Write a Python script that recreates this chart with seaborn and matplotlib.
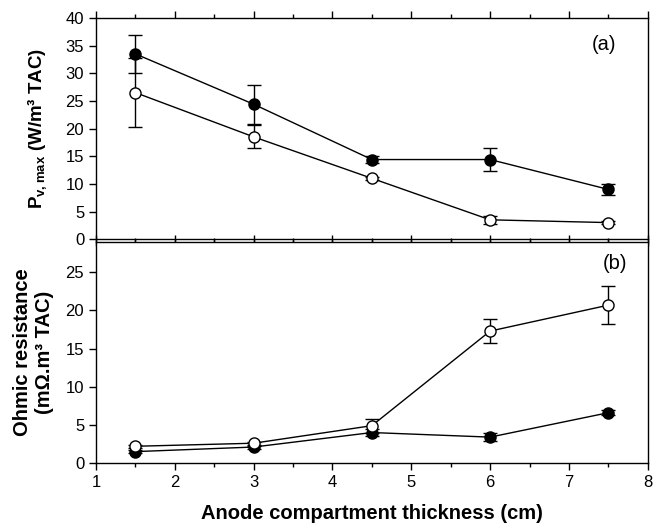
import matplotlib
matplotlib.use("Agg")
import matplotlib.pyplot as plt
import seaborn as sns
import numpy as np
import pandas as pd
from matplotlib.ticker import MultipleLocator

sns.set_theme(style="ticks")
plt.rcParams['font.family'] = ['Liberation Sans', 'DejaVu Sans']
plt.rcParams['mathtext.fontset'] = 'custom'
plt.rcParams['mathtext.rm'] = 'Liberation Sans'
plt.rcParams['mathtext.bf'] = 'Liberation Sans:bold'
for k in ('text.color', 'axes.labelcolor', 'xtick.color', 'ytick.color',
          'xtick.labelcolor', 'ytick.labelcolor', 'axes.edgecolor'):
    plt.rcParams[k] = 'black'

thickness = [1.5, 3.0, 4.5, 6.0, 7.5]

pv_filled = [33.5, 24.4, 14.4, 14.4, 9.0]
pv_filled_err = [3.5, 3.5, 0.7, 2.1, 1.0]
pv_open = [26.5, 18.5, 11.0, 3.5, 3.0]
pv_open_err = [6.3, 2.1, 0.3, 0.7, 0.2]

r_filled = [1.5, 2.1, 4.0, 3.4, 6.6]
r_filled_err = [0.2, 0.2, 0.4, 0.5, 0.3]
r_open = [2.2, 2.6, 4.9, 17.3, 20.7]
r_open_err = [0.2, 0.2, 0.9, 1.6, 2.5]

fig = plt.figure(figsize=(6.53, 5.28), dpi=100)
ax1 = fig.add_axes([0.147, 0.547, 0.845, 0.419])
ax2 = fig.add_axes([0.147, 0.123, 0.845, 0.419])

def panel(ax, yf, ef, yo, eo):
    ax.errorbar(thickness, yf, yerr=ef, fmt="none", ecolor="black",
                elinewidth=1, capsize=5, capthick=1, zorder=2)
    ax.errorbar(thickness, yo, yerr=eo, fmt="none", ecolor="black",
                elinewidth=1, capsize=5, capthick=1, zorder=2)
    for vals, face in ((yf, "black"), (yo, "white")):
        before = len(ax.lines)
        sns.lineplot(x=thickness, y=vals, color="black", marker="o",
                     markersize=8, markerfacecolor=face, markeredgecolor="black",
                     markeredgewidth=1, linewidth=1, ax=ax, legend=False)
        for l in ax.lines[before:]:
            l.set_zorder(3)
            l.set_markerfacecolor(face)
            l.set_markeredgecolor("black")
    ax.set_xlim(1, 8)
    ax.xaxis.set_major_locator(MultipleLocator(1))
    ax.xaxis.set_minor_locator(MultipleLocator(0.5))
    ax.tick_params(axis="x", which="both", top=True, bottom=True, direction="out")
    ax.tick_params(axis="x", which="major", length=5, width=1)
    ax.tick_params(axis="x", which="minor", length=3, width=1)
    ax.tick_params(axis="y", which="major", length=5, width=1, direction="out", labelsize=12)
    ax.tick_params(axis="x", labelsize=12)
    for s in ax.spines.values():
        s.set_linewidth(1)
        s.set_color("black")
    ax.set_ylabel("")
    ax.set_xlabel("")

panel(ax1, pv_filled, pv_filled_err, pv_open, pv_open_err)
ax1.set_ylim(0, 40)
ax1.yaxis.set_major_locator(MultipleLocator(5))
ax1.tick_params(axis="x", labelbottom=False)
ax1.set_ylabel(r"$\mathbf{P_{v,max}}$ (W/m³ TAC)", fontsize=13.5, fontweight="bold", labelpad=12)
ax1.text(0.92, 0.88, "(a)", transform=ax1.transAxes, fontsize=14.5, ha="center", va="center")

panel(ax2, r_filled, r_filled_err, r_open, r_open_err)
ax2.set_ylim(0, 29)
ax2.set_yticks([0, 5, 10, 15, 20, 25])
ax2.set_ylabel("Ohmic resistance\n(mΩ.m³ TAC)", fontsize=14.5, fontweight="bold", labelpad=8,
               linespacing=1.25)
ax2.text(0.94, 0.90, "(b)", transform=ax2.transAxes, fontsize=14.5, ha="center", va="center")
ax2.set_xlabel("Anode compartment thickness (cm)", fontsize=14.5, fontweight="bold", labelpad=10)

fig.savefig("out.png", dpi=100)
